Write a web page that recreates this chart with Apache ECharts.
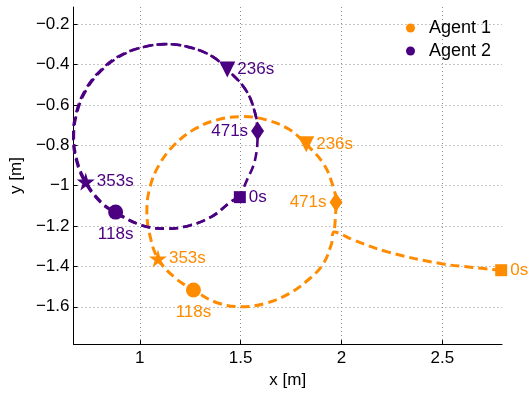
<!DOCTYPE html>
<html><head><meta charset="utf-8">
<script src="https://cdn.jsdelivr.net/npm/echarts@6/dist/echarts.min.js"></script>
<style>html,body{margin:0;padding:0;background:#fff}#c{width:528px;height:394px}</style>
</head><body><div id="c"></div>
<script>
// Agent 1 trajectory (orange): approach from the right, then the loop
const agent1PathX = [2.792,2.650,2.491,2.228,2.064,1.964,1.950,1.908,1.837,1.740,1.627,1.505,1.383,1.266,1.173,1.090,1.051,1.035,1.051,1.098,1.173,1.270,1.383,1.505,1.627,1.740,1.825,1.912,1.959,1.973,1.964];
const agent1PathY = [-1.419,-1.405,-1.386,-1.328,-1.271,-1.230,-1.290,-1.390,-1.465,-1.535,-1.582,-1.600,-1.580,-1.517,-1.455,-1.361,-1.250,-1.128,-1.006,-0.893,-0.796,-0.721,-0.674,-0.658,-0.674,-0.721,-0.795,-0.893,-1.006,-1.082,-1.230];
// Agent 2 trajectory (purple), first loop: 0s back round to 0s
const agent2Loop1X = [1.496,1.453,1.359,1.248,1.130,1.012,0.880,0.807,0.732,0.689,0.673,0.689,0.734,0.807,0.901,1.012,1.130,1.248,1.359,1.434,1.526,1.571,1.584,1.571,1.526,1.496];
const agent2Loop1Y = [-1.057,-1.079,-1.152,-1.197,-1.213,-1.197,-1.131,-1.079,-0.980,-0.874,-0.756,-0.638,-0.527,-0.433,-0.360,-0.315,-0.299,-0.315,-0.360,-0.425,-0.527,-0.638,-0.729,-0.874,-0.985,-1.057];
// Agent 2 second pass: 0s position on to the 471s position
const agent2Loop2X = [1.496,1.453,1.359,1.248,1.130,1.012,0.877,0.804,0.728,0.685,0.669,0.685,0.730,0.804,0.899,1.012,1.130,1.248,1.359,1.434,1.526,1.571,1.584];
const agent2Loop2Y = [-1.057,-1.079,-1.152,-1.197,-1.213,-1.197,-1.134,-1.082,-0.982,-0.875,-0.756,-0.637,-0.525,-0.430,-0.357,-0.315,-0.299,-0.315,-0.360,-0.425,-0.527,-0.638,-0.729];
// Time markers
const markerTimes = ['0s','118s','236s','353s','471s'];
const agent1MarkX = [2.792,1.266,1.825,1.090,1.973];
const agent1MarkY = [-1.419,-1.517,-0.795,-1.361,-1.082];
const agent2MarkX = [1.496,0.880,1.434,0.732,1.584];
const agent2MarkY = [-1.057,-1.131,-0.425,-0.980,-0.729];

const C1 = '#FF8C00', C2 = '#4B0082';
const FONT = "'Liberation Sans', Arial, sans-serif";
const STAR = 'path://M50,0 L61,35 L98,35 L68,57 L79,91 L50,70 L21,91 L32,57 L2,35 L39,35 Z';
const markStyle = [
  {symbol:'rect', size:12, rotate:0, pos:'right', dist:3},
  {symbol:'circle', size:15, rotate:0, pos:'bottom', dist:6},
  {symbol:'triangle', size:16, rotate:180, pos:'right', dist:2},
  {symbol:STAR, size:18, rotate:0, pos:'right', dist:2},
  {symbol:'diamond', size:[13,19], rotate:0, pos:'left', dist:3}
];
function pathData(xs, ys){ return xs.map((x,i)=>[x, ys[i]]); }
function markData(xs, ys, color){
  return xs.map((x,i)=>({
    value:[x, ys[i]],
    symbol: markStyle[i].symbol,
    symbolSize: markStyle[i].size,
    symbolRotate: markStyle[i].rotate,
    label:{show:true, formatter: markerTimes[i], position: markStyle[i].pos, distance: markStyle[i].dist,
      color: color, opacity:1, fontSize: 17, fontFamily: FONT}
  }));
}
const minus = v => String(v).replace('-', '\u2212');
const chart = echarts.init(document.getElementById('c'), null, {renderer:'canvas'});
const pathLine = (name, data, color, w, z) => ({
  name, type:'line', data, showSymbol:false, symbol:'none', smooth:0.4, color,
  lineStyle:{color, width:w, type:[9,5], dashOffset:0}, z
});
chart.setOption({
  animation:false,
  backgroundColor:'#fff',
  textStyle:{fontFamily:FONT},
  grid:{left:71, right:26, top:7, bottom:48, containLabel:false},
  legend:{
    orient:'vertical', left:401, top:14, itemWidth:9, itemHeight:9, itemGap:5,
    textStyle:{fontSize:18, color:'#000', fontFamily:FONT, lineHeight:17, padding:[0,0,0,9]},
    data:[{name:'Agent 1', icon:'circle'},{name:'Agent 2', icon:'circle'}]
  },
  xAxis:{
    type:'value', min:0.671, max:2.796, splitNumber:5,
    name:'x [m]', nameLocation:'middle', nameGap:25,
    nameTextStyle:{fontSize:17, color:'#000', fontFamily:FONT},
    axisLine:{show:true, onZero:false, lineStyle:{color:'#000', width:1}},
    axisTick:{show:true, inside:true, length:4, lineStyle:{color:'#000'}},
    axisLabel:{fontSize:17, color:'#000', margin:6, showMinLabel:false, showMaxLabel:false, formatter:minus},
    splitLine:{show:true, showMinLine:false, showMaxLine:false, lineStyle:{color:'#8c8c8c', type:[1,3], width:1}}
  },
  yAxis:{
    type:'value', min:-1.785, max:-0.115, splitNumber:8,
    name:'y [m]', nameLocation:'middle', nameGap:44,
    nameTextStyle:{fontSize:17, color:'#000', fontFamily:FONT},
    axisLine:{show:true, onZero:false, lineStyle:{color:'#000', width:1}},
    axisTick:{show:true, inside:true, length:4, lineStyle:{color:'#000'}},
    axisLabel:{fontSize:17, color:'#000', margin:4, showMinLabel:false, showMaxLabel:false, formatter:minus},
    splitLine:{show:true, showMinLine:false, showMaxLine:false, lineStyle:{color:'#8c8c8c', type:[1,3], width:1}}
  },
  series:[
    pathLine('Agent 1', pathData(agent1PathX, agent1PathY), C1, 3, 2),
    pathLine('Agent 2', pathData(agent2Loop1X, agent2Loop1Y), C2, 2.6, 3),
    pathLine('Agent 2', pathData(agent2Loop2X, agent2Loop2Y), C2, 2.6, 3),
    {name:'Agent 1', type:'scatter', data:markData(agent1MarkX, agent1MarkY, C1), color:C1,
      itemStyle:{color:C1, opacity:1}, z:4},
    {name:'Agent 2', type:'scatter', data:markData(agent2MarkX, agent2MarkY, C2), color:C2,
      itemStyle:{color:C2, opacity:1}, z:5}
  ]
});
</script></body></html>
